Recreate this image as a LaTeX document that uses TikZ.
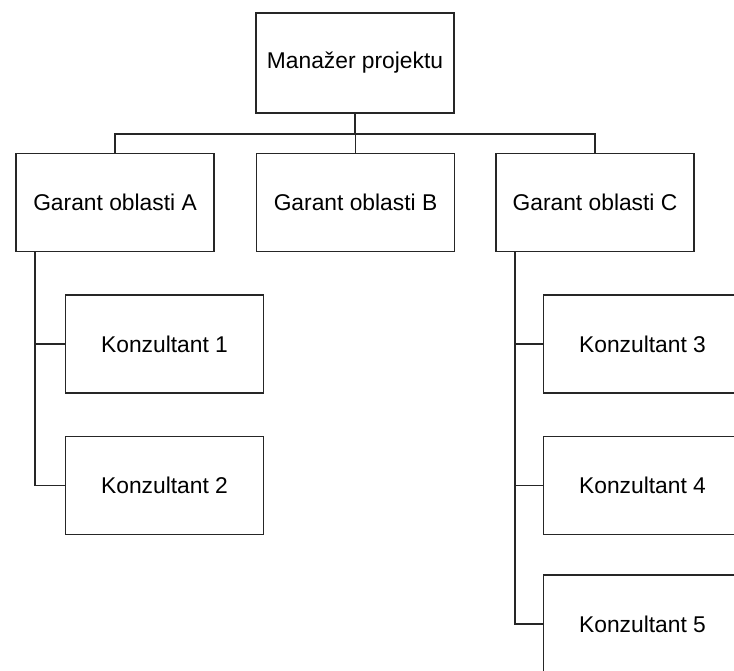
\documentclass[tikz,border=0pt]{standalone}
\usepackage{fontspec}
\setmainfont{Liberation Sans}
\begin{document}
\begin{tikzpicture}[x=1pt,y=-1pt,
  box/.style={draw=black!85, line width=1.3pt, fill=white, rectangle, inner sep=0pt,
    minimum width=198pt, minimum height=98pt, font=\fontsize{22.8}{27}\selectfont},
  conn/.style={draw=black!85, line width=1.3pt}]
\useasboundingbox (0,0) rectangle (734,671);
\begin{scope}
\clip (0,0) rectangle (734,671);
\node[box, minimum height=100pt] (top) at (355,63) {Manažer projektu};
\node[box] (A) at (115,202.5) {Garant oblasti A};
\node[box] (B) at (355.5,202.5) {Garant oblasti B};
\node[box] (C) at (595,202.5) {Garant oblasti C};
\node[box] (K1) at (164.5,344) {Konzultant 1};
\node[box] (K2) at (164.5,485.5) {Konzultant 2};
\node[box] (K3) at (642.5,344) {Konzultant 3};
\node[box] (K4) at (642.5,485.5) {Konzultant 4};
\node[box] (K5) at (642.5,624) {Konzultant 5};
\coordinate (bus) at (0,134);
\coordinate (spineA) at (35,0);
\coordinate (spineC) at (515,0);
\draw[conn] (top.south) -- (top.south |- bus);
\draw[conn] (A.north) -- (A.north |- bus) -- (C.north |- bus) -- (C.north);
\draw[conn] (B.north) -- (B.north |- bus);
\draw[conn] (spineA |- A.south) |- (K2.west);
\draw[conn] (spineA |- K1.west) -- (K1.west);
\draw[conn] (spineC |- C.south) |- (K5.west);
\draw[conn] (spineC |- K3.west) -- (K3.west);
\draw[conn] (spineC |- K4.west) -- (K4.west);
\end{scope}
\end{tikzpicture}
\end{document}
